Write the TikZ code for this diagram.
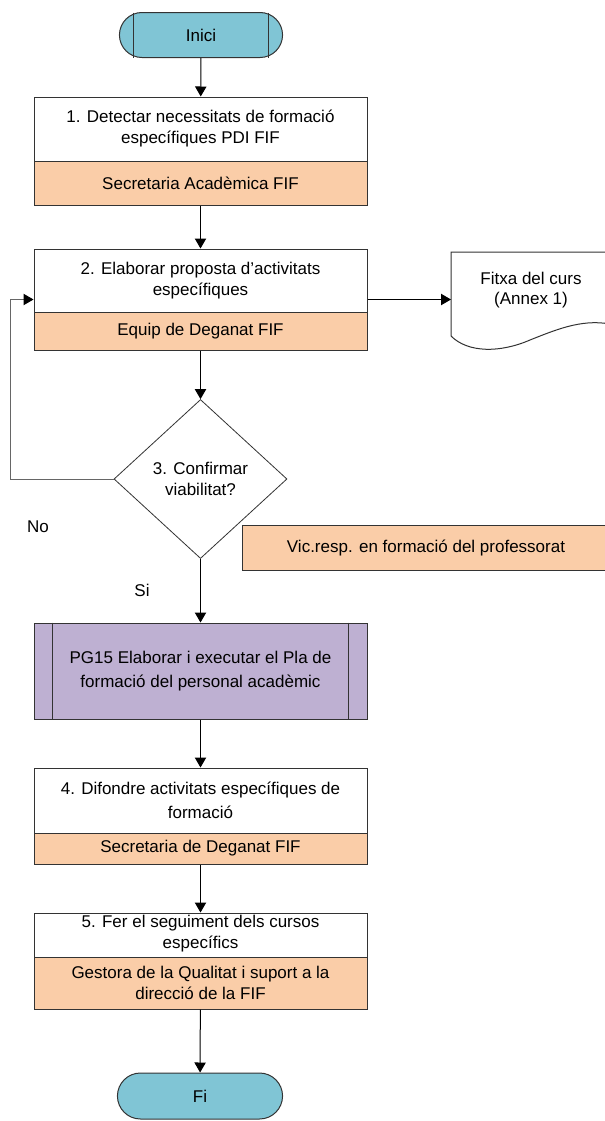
\documentclass[tikz,border=0pt]{standalone}
\usepackage{fontspec}
\setmainfont{Liberation Sans}
\usepackage{tikz}
\usetikzlibrary{arrows.meta}
\usetikzlibrary{shapes.geometric,shapes.misc}
\definecolor{termcol}{RGB}{128,197,213}
\definecolor{rolecol}{RGB}{250,205,168}
\definecolor{subcol}{RGB}{190,176,210}
\tikzset{
    terminal/.style={
           rounded rectangle,
           draw=black!80, line width=0.75pt,
           fill=termcol,
           minimum width=129pt, minimum height=33.75pt,
           },
}
\tikzset{
    task/.style={
           rectangle,
           draw=black!80, line width=0.75pt,
           fill=white,
           minimum width=249.75pt,
           },
}
\tikzset{
    role/.style={
           rectangle,
           draw=black!80, line width=0.75pt,
           fill=rolecol,
           minimum width=249.75pt,
           align=center, inner sep=0pt,
           },
}
\tikzset{
    subproc/.style={
           rectangle,
           draw=black!80, line width=0.75pt,
           fill=subcol,
           minimum width=249.75pt,
           align=center,
           },
}
\tikzset{
    decision/.style={
           diamond,
           draw=black!80, line width=0.6pt,
           fill=white,
           minimum width=129.75pt, minimum height=119.25pt,
           inner sep=0pt, align=center,
           },
}
\tikzset{
    txt/.style={align=center, inner sep=0pt},
    wide/.style={font=\fontsize{12.75}{18}\selectfont},
    flow/.style={-{Triangle[length=7.5pt,width=8.5pt,color=black]}, line width=0.75pt},
}

\begin{document}
\begin{tikzpicture}[x=0.75pt, y=-0.75pt, font=\fontsize{12.75}{15.5}\selectfont]
\clip (0,0) rectangle (605,1121);
\fill[white] (0,0) rectangle (605,1121);
% start
\node[terminal] (inici) at (201,35) {Inici};
\draw[black!80, line width=0.75pt] (133,12.5) -- (133,57.5);
\draw[black!80, line width=0.75pt] (268,12.5) -- (268,57.5);
% step 1
\node[task, minimum height=81pt] (act1) at (200.5,151) {};
\node[role, minimum height=33pt] (resp1) at (200.5,183) {Secretaria Acadèmica FIF};
\node[txt] (act1txt) at (200.5,128.5) {1. Detectar necessitats de formació\\específiques PDI FIF};
% step 2
\node[task, minimum height=75.75pt] (act2) at (200.5,299.5) {};
\node[role, minimum height=28.5pt] (resp2) at (200.5,331) {Equip de Deganat FIF};
\node[txt] (act2txt) at (200.5,280.5) {2. Elaborar proposta d’activitats\\específiques};
% document
\draw[black!80, line width=0.75pt, fill=white] (451,336) -- (451,252) -- (615,252) -- (615,325)
   .. controls (585,318) and (560,328) .. (530,340)
   .. controls (500,353) and (468,353) .. (451,336);
\node[txt] (fitxa) at (531,290) {Fitxa del curs\\(Annex 1)};
\coordinate (fitxaL) at (451,299.5);
% step 3
\node[decision] (dec) at (200.5,479) {3. Confirmar\\viabilitat?};
\node[role, minimum width=276pt, minimum height=33.75pt] (vic) at (426,548) {Vic.resp. en formació del professorat};
\node (no) at (38,527) {No};
\node (si) at (142,590) {Si};
\coordinate (loopc) at (10,479);
% subprocess
\node[subproc, wide, minimum height=72pt] (pg15) at (200.5,671) {PG15 Elaborar i executar el Pla de\\formació del personal acadèmic};
\draw[black!80, line width=0.75pt] ([xshift=14.25pt]pg15.north west) -- ([xshift=14.25pt]pg15.south west);
\draw[black!80, line width=0.75pt] ([xshift=-14.25pt]pg15.north east) -- ([xshift=-14.25pt]pg15.south east);
% step 4
\node[task, minimum height=72pt] (act4) at (200.5,816) {};
\node[role, minimum height=23.25pt] (resp4) at (200.5,848.5) {Secretaria de Deganat FIF};
\node[txt, wide] (act4txt) at (200.5,800) {4. Difondre activitats específiques de\\formació};
% step 5
\node[task, minimum height=72pt] (act5) at (200.5,961) {};
\node[role, minimum height=39pt] (resp5) at (200.5,983) {Gestora de la Qualitat i suport a la\\direcció de la FIF};
\node[txt] (act5txt) at (200.5,933.5) {5. Fer el seguiment dels cursos\\específics};
% end
\node[terminal, minimum width=130.5pt, minimum height=34.5pt] (fi) at (200,1096) {Fi};
% connectors
\draw[flow] (inici) -- (act1);
\draw[flow] (act1) -- (act2);
\draw[flow] (act2.east) -- (fitxaL);
\draw[flow] (act2) -- (dec);
\draw[flow, black!60] (dec.west) -- (loopc) |- (act2.west);
\draw[flow] (dec) -- (pg15);
\draw[flow] (pg15) -- (act4);
\draw[flow] (act4) -- (act5);
\draw[flow] (act5) -- (fi);
\end{tikzpicture}
\end{document}
